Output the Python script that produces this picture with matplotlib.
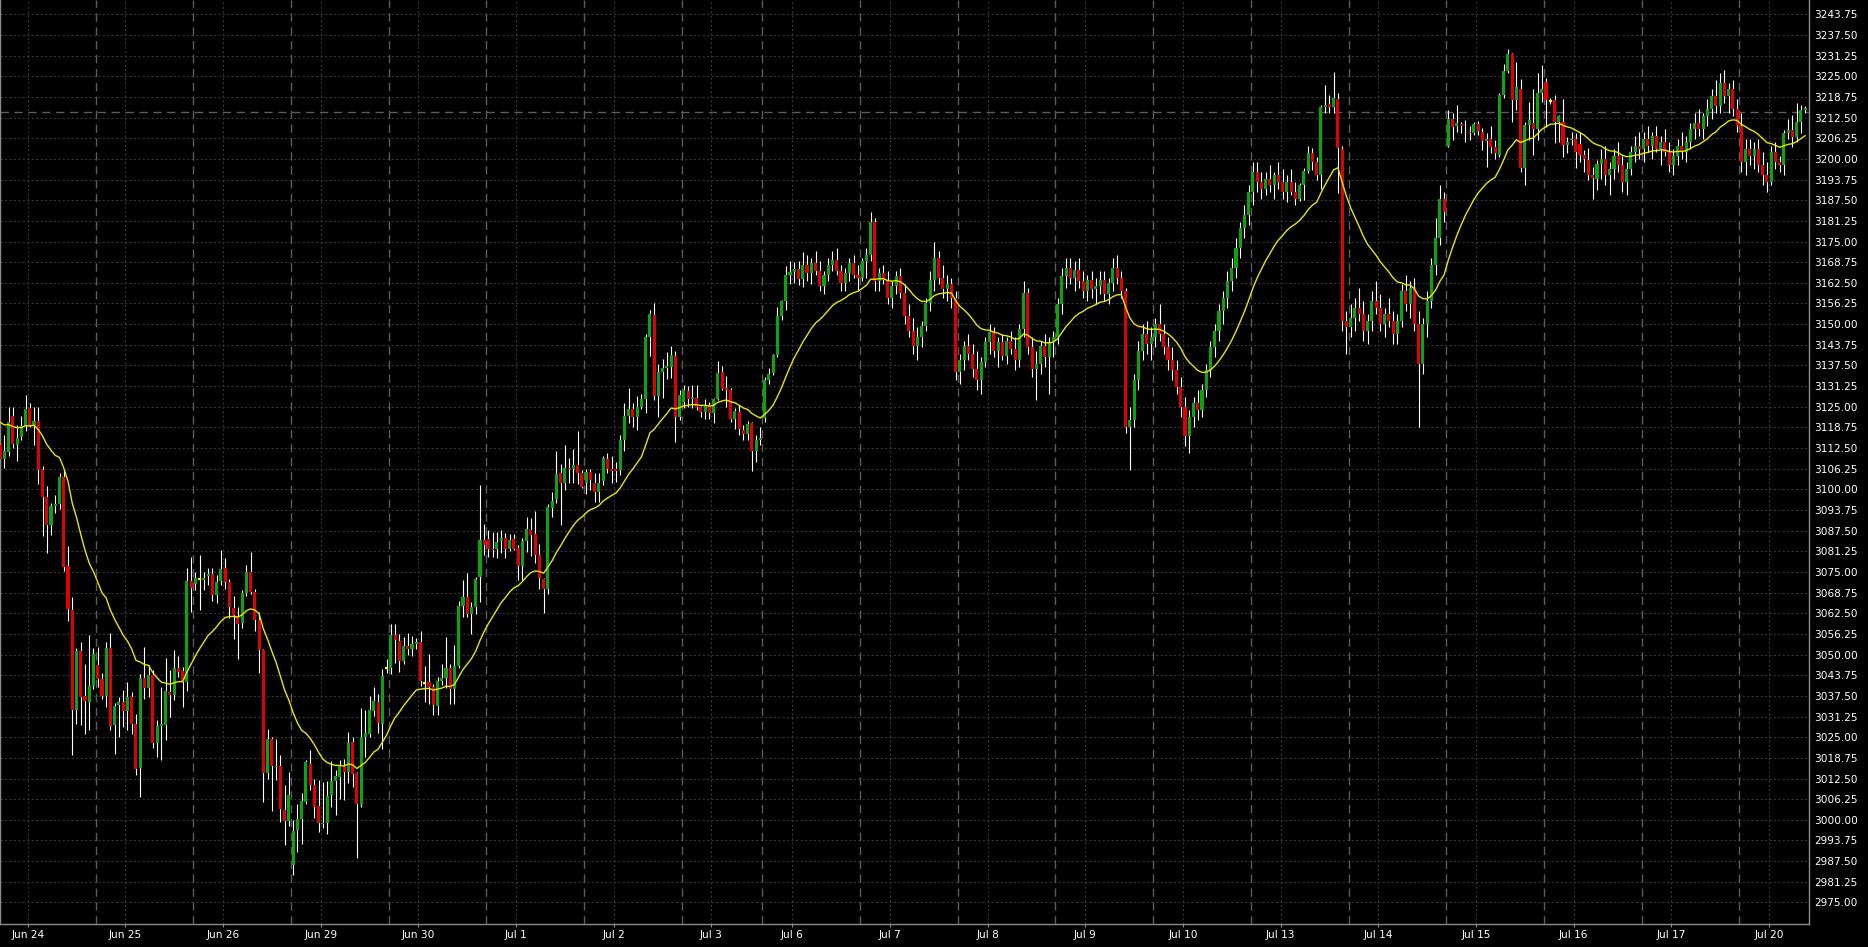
import numpy as np
import matplotlib
matplotlib.use("Agg")
import matplotlib.pyplot as plt

# hourly bars, one row per trading session
opens = [
    3113.4, 3109.2, 3111.4, 3122.2, 3113.4, 3115.7, 3119.1, 3124.6, 3119.1, 3120.7, 3105.8, 3097.8, 3089.2, 3095.0, 3095.5, 3103.7, 3076.8, 3063.5, 3033.2, 3051.0, 3037.4, 3035.7, 3040.5,
    3046.8, 3042.6, 3037.5, 3052.1, 3028.6, 3034.7, 3035.7, 3033.0, 3037.1, 3029.1, 3015.8, 3043.0, 3040.0, 3043.8, 3023.3, 3028.4, 3028.6, 3038.7, 3037.7, 3046.0, 3045.0, 3041.8, 3072.2,
    3071.5, 3072.8, 3072.7, 3073.7, 3074.5, 3068.0, 3072.2, 3076.1, 3072.0, 3064.0, 3061.6, 3059.6, 3068.7, 3075.1, 3069.0, 3060.4, 3051.5, 3014.2, 3024.6, 3016.0, 3016.4, 3003.1, 2999.7,
    2986.3, 2996.9, 3000.2, 3005.4, 3017.0, 3010.5, 3004.1, 2998.6, 2999.1, 3007.5, 3011.8, 3013.0, 3016.2, 3014.5, 3023.6, 3014.2, 3004.4, 3025.1, 3026.1, 3033.0, 3035.7, 3028.9, 3045.8,
    3045.8, 3055.9, 3054.2, 3048.1, 3052.6, 3051.7, 3053.2, 3053.7, 3041.5, 3041.8, 3040.2, 3034.5, 3042.1, 3042.8, 3045.8, 3039.7, 3046.6, 3064.7, 3067.3, 3062.4, 3064.3, 3073.5, 3084.6,
    3085.1, 3082.1, 3082.1, 3084.3, 3085.4, 3082.1, 3085.1, 3082.3, 3076.8, 3084.3, 3087.7, 3086.4, 3080.1, 3073.0, 3070.0, 3094.4, 3097.0, 3104.8, 3101.8, 3106.6, 3106.3, 3107.5, 3105.1,
    3102.0, 3105.3, 3101.8, 3099.1, 3102.6, 3109.1, 3106.1, 3106.1, 3105.8, 3114.9, 3122.3, 3124.3, 3121.8, 3125.0, 3127.3, 3146.2, 3152.7, 3128.3, 3135.6, 3136.6, 3137.1, 3140.3, 3121.8,
    3126.5, 3129.7, 3127.3, 3127.7, 3124.8, 3123.5, 3125.4, 3123.2, 3127.3, 3135.6, 3130.7, 3130.2, 3121.3, 3123.5, 3117.9, 3116.7, 3120.2, 3111.7, 3114.9,
    3121.5, 3133.0, 3135.1, 3140.6, 3152.4, 3157.0, 3164.8, 3165.9, 3166.7, 3163.6, 3167.9, 3165.5, 3168.5, 3166.0, 3161.5, 3165.0, 3168.0, 3169.5, 3166.0, 3162.5, 3165.5, 3168.5, 3165.0,
    3164.0, 3169.0, 3171.0, 3181.0, 3163.0, 3165.5, 3163.5, 3158.0, 3161.5, 3164.5, 3159.5, 3152.5, 3148.0, 3143.5, 3146.0, 3149.5, 3156.5, 3163.5, 3170.0, 3164.0, 3160.5, 3162.0, 3158.0,
    3135.5, 3139.0, 3143.5, 3141.0, 3136.5, 3133.0, 3138.5, 3144.5, 3147.5, 3142.0, 3144.5, 3140.5, 3145.0, 3142.5, 3139.0, 3148.5, 3159.5, 3143.0, 3136.5, 3138.0, 3143.5, 3140.0, 3144.5,
    3146.0, 3156.0, 3164.5, 3167.0, 3164.0, 3166.5, 3163.0, 3160.0, 3163.5, 3160.5, 3161.5, 3163.5, 3159.0, 3162.5, 3167.0, 3164.0, 3160.0, 3119.0, 3121.0, 3133.0, 3142.0, 3147.0, 3144.0,
    3146.0, 3150.0, 3147.0, 3143.0, 3139.0, 3136.0, 3131.0, 3125.0, 3116.0, 3122.0, 3126.0, 3124.0, 3130.0, 3136.0, 3143.0, 3148.0, 3154.0, 3158.0, 3163.0, 3167.0, 3173.0, 3179.0, 3183.0,
    3190.0, 3196.0, 3193.0, 3191.0, 3194.0, 3192.0, 3195.0, 3193.0, 3190.0, 3193.0, 3190.0, 3187.8, 3192.1, 3196.3, 3201.7, 3199.2, 3195.0, 3215.8, 3216.6, 3215.8, 3218.0, 3203.0, 3151.0,
    3149.0, 3152.0, 3155.0, 3153.0, 3148.0, 3151.0, 3157.0, 3155.0, 3150.0, 3153.0, 3151.0, 3147.0, 3151.0, 3160.0, 3156.0, 3161.0, 3150.0, 3138.0, 3150.0, 3157.0, 3168.0, 3176.0, 3188.0,
    3203.9, 3212.1, 3209.9, 3210.6, 3210.2, 3208.2, 3207.7, 3210.6, 3208.2, 3205.5, 3206.0, 3203.7, 3201.2, 3219.3, 3226.6, 3231.7, 3217.8, 3221.3, 3197.1, 3210.2, 3210.8, 3209.0, 3219.8,
    3223.4, 3217.5, 3217.8, 3211.3, 3211.3, 3204.2, 3205.7, 3206.0, 3204.5, 3201.2, 3199.7, 3195.1, 3193.8, 3198.4, 3200.0, 3195.0, 3197.0, 3201.0, 3198.0, 3193.0, 3197.0, 3202.0, 3204.0,
    3203.0, 3206.0, 3204.0, 3207.0, 3203.0, 3205.0, 3202.0, 3198.0, 3201.0, 3204.0, 3202.0, 3205.0, 3209.0, 3211.0, 3209.0, 3213.0, 3215.0, 3219.0, 3216.0, 3223.0, 3219.0, 3221.0, 3215.0,
    3210.0, 3199.0, 3203.0, 3201.0, 3203.0, 3198.0, 3195.0, 3193.0, 3202.0, 3199.0, 3198.1, 3207.9, 3208.7, 3206.5, 3211.3, 3214.8,
]
highs = [
    3115.0, 3116.4, 3124.8, 3124.8, 3119.5, 3122.2, 3128.5, 3126.1, 3124.8, 3124.8, 3107.0, 3101.0, 3095.9, 3098.3, 3105.0, 3106.3, 3082.9, 3067.3, 3052.0, 3053.7, 3047.1, 3055.8, 3051.9,
    3052.2, 3044.3, 3053.9, 3056.4, 3035.5, 3037.2, 3039.2, 3041.7, 3038.7, 3032.0, 3044.0, 3052.4, 3046.8, 3045.3, 3030.2, 3040.2, 3049.0, 3045.3, 3051.5, 3049.5, 3046.1, 3076.1, 3079.6,
    3075.0, 3080.1, 3075.1, 3076.1, 3076.1, 3074.0, 3081.8, 3079.1, 3073.0, 3067.7, 3064.5, 3069.5, 3077.1, 3080.9, 3069.7, 3063.0, 3051.8, 3027.6, 3025.1, 3024.4, 3019.6, 3010.5, 3014.5,
    2999.9, 3004.9, 3008.0, 3018.2, 3021.1, 3012.5, 3012.0, 3011.5, 3011.8, 3017.7, 3015.0, 3018.2, 3018.5, 3026.6, 3025.1, 3014.5, 3033.7, 3033.2, 3037.5, 3040.2, 3038.2, 3045.5, 3048.8,
    3059.2, 3059.2, 3056.2, 3055.2, 3056.4, 3055.7, 3054.9, 3057.1, 3046.6, 3050.1, 3041.2, 3043.3, 3047.1, 3055.4, 3047.3, 3052.9, 3066.2, 3072.5, 3074.6, 3066.0, 3073.5, 3101.3, 3089.4,
    3087.7, 3087.2, 3087.0, 3087.7, 3086.7, 3086.5, 3086.4, 3083.1, 3085.3, 3091.7, 3091.4, 3093.4, 3083.6, 3073.2, 3095.7, 3099.3, 3111.7, 3107.8, 3113.4, 3109.4, 3112.1, 3117.6, 3105.8,
    3106.3, 3106.3, 3104.8, 3104.8, 3110.1, 3110.9, 3110.2, 3108.3, 3116.6, 3126.0, 3130.7, 3126.0, 3128.2, 3129.0, 3146.9, 3154.3, 3156.5, 3137.9, 3139.4, 3141.6, 3143.4, 3141.9, 3130.0,
    3131.5, 3131.2, 3131.6, 3131.6, 3125.2, 3127.2, 3126.5, 3127.6, 3138.8, 3137.3, 3134.3, 3130.7, 3124.7, 3125.5, 3119.5, 3120.8, 3120.5, 3116.4, 3119.0,
    3134.0, 3136.6, 3141.0, 3155.2, 3157.3, 3167.6, 3169.1, 3168.9, 3169.1, 3171.9, 3171.0, 3170.0, 3172.0, 3169.0, 3166.0, 3170.0, 3172.0, 3173.0, 3168.0, 3167.0, 3170.0, 3171.0, 3168.0,
    3170.0, 3173.0, 3184.0, 3182.0, 3167.0, 3168.0, 3166.0, 3163.0, 3166.0, 3167.0, 3162.0, 3156.0, 3152.0, 3149.0, 3151.0, 3158.0, 3166.0, 3175.0, 3172.0, 3168.0, 3165.0, 3164.0, 3160.0,
    3141.0, 3145.0, 3147.0, 3144.0, 3142.0, 3140.0, 3146.0, 3150.0, 3149.0, 3146.0, 3147.0, 3146.0, 3148.0, 3146.0, 3150.0, 3163.0, 3161.0, 3146.0, 3142.0, 3145.0, 3147.0, 3146.0, 3148.0,
    3158.0, 3167.0, 3170.0, 3170.0, 3169.0, 3170.0, 3166.0, 3165.0, 3166.0, 3164.0, 3166.0, 3166.0, 3164.0, 3170.0, 3171.0, 3166.0, 3161.0, 3125.0, 3135.0, 3145.0, 3150.0, 3151.0, 3149.0,
    3152.0, 3156.0, 3150.0, 3146.0, 3143.0, 3139.0, 3134.0, 3128.0, 3124.0, 3128.0, 3130.0, 3132.0, 3138.0, 3145.0, 3150.0, 3156.0, 3160.0, 3166.0, 3170.0, 3176.0, 3181.0, 3186.0, 3192.0,
    3199.0, 3199.0, 3196.0, 3196.0, 3198.0, 3196.0, 3199.0, 3197.0, 3195.0, 3197.0, 3193.0, 3192.6, 3197.1, 3203.9, 3203.2, 3200.7, 3216.3, 3222.4, 3219.3, 3226.4, 3220.0, 3204.0, 3154.0,
    3156.0, 3158.0, 3161.0, 3157.0, 3153.0, 3160.0, 3163.0, 3159.0, 3155.0, 3158.0, 3154.0, 3153.0, 3162.0, 3165.0, 3163.0, 3164.0, 3154.0, 3152.0, 3160.0, 3170.0, 3182.0, 3192.0, 3190.0,
    3214.8, 3213.8, 3216.3, 3211.3, 3211.8, 3210.0, 3211.3, 3211.6, 3209.2, 3207.7, 3210.0, 3205.7, 3219.8, 3228.7, 3233.2, 3232.0, 3229.4, 3224.1, 3211.3, 3217.3, 3221.3, 3225.9, 3228.4,
    3224.4, 3218.5, 3219.3, 3213.3, 3218.0, 3206.5, 3208.0, 3207.7, 3208.0, 3202.7, 3203.2, 3197.6, 3199.7, 3203.0, 3204.0, 3199.0, 3203.0, 3205.0, 3201.0, 3199.0, 3204.0, 3207.0, 3208.0,
    3208.0, 3210.0, 3208.0, 3210.0, 3207.0, 3209.0, 3205.0, 3203.0, 3206.0, 3208.0, 3207.0, 3211.0, 3214.0, 3215.0, 3214.0, 3218.0, 3221.0, 3224.0, 3226.0, 3227.0, 3223.0, 3224.0, 3218.0,
    3214.0, 3206.0, 3206.0, 3205.0, 3206.0, 3202.0, 3199.0, 3204.0, 3205.0, 3201.0, 3208.7, 3212.0, 3213.3, 3216.8, 3216.3, 3216.0,
]
lows = [
    3108.5, 3106.5, 3110.1, 3112.5, 3108.7, 3114.9, 3117.7, 3118.9, 3113.4, 3101.6, 3086.0, 3080.8, 3086.2, 3092.9, 3094.0, 3075.3, 3060.2, 3019.6, 3029.1, 3028.6, 3025.9, 3027.1, 3039.7,
    3040.3, 3036.7, 3034.2, 3027.1, 3019.9, 3025.1, 3028.1, 3027.3, 3026.1, 3013.5, 3007.0, 3036.7, 3037.2, 3021.6, 3019.1, 3018.0, 3024.1, 3031.2, 3036.2, 3043.3, 3034.2, 3039.0, 3063.0,
    3069.5, 3063.4, 3069.5, 3071.0, 3066.2, 3065.5, 3071.0, 3070.0, 3061.1, 3054.7, 3048.8, 3057.9, 3067.8, 3068.2, 3057.2, 3044.3, 3005.4, 3012.5, 3002.7, 3012.0, 2999.4, 2992.3, 2998.0,
    2983.2, 2990.3, 2992.6, 3004.9, 3009.0, 3000.6, 2996.4, 2997.5, 2995.6, 3003.9, 3001.4, 3006.4, 3005.9, 3011.0, 3010.0, 2988.5, 3003.9, 3019.1, 3025.1, 3031.5, 3026.3, 3021.3, 3044.3,
    3044.1, 3047.5, 3044.8, 3047.3, 3049.8, 3049.6, 3051.8, 3040.6, 3035.7, 3034.9, 3031.7, 3031.7, 3040.7, 3039.9, 3035.2, 3035.2, 3045.8, 3061.4, 3061.4, 3056.1, 3062.4, 3066.0, 3080.1,
    3079.6, 3079.6, 3079.1, 3080.8, 3079.1, 3081.3, 3081.6, 3072.5, 3072.7, 3081.1, 3079.9, 3077.6, 3070.0, 3062.6, 3068.2, 3091.7, 3095.9, 3089.2, 3099.8, 3101.8, 3101.8, 3101.5, 3100.3,
    3098.5, 3099.8, 3096.2, 3096.2, 3101.3, 3104.8, 3101.8, 3102.1, 3104.3, 3111.7, 3120.2, 3118.9, 3118.1, 3124.3, 3123.0, 3140.4, 3127.0, 3121.8, 3127.7, 3133.4, 3133.6, 3114.2, 3121.0,
    3124.5, 3125.0, 3124.5, 3124.0, 3121.8, 3121.3, 3121.3, 3120.2, 3127.0, 3130.2, 3124.8, 3120.5, 3118.2, 3116.4, 3114.9, 3114.9, 3105.6, 3108.4, 3113.4,
    3120.5, 3132.0, 3134.5, 3140.0, 3151.2, 3154.2, 3162.0, 3162.5, 3161.8, 3161.3, 3163.0, 3162.0, 3165.0, 3160.0, 3159.0, 3163.0, 3166.0, 3165.0, 3160.0, 3160.0, 3163.0, 3164.0, 3160.0,
    3163.0, 3164.0, 3169.0, 3160.0, 3160.0, 3162.0, 3156.0, 3155.0, 3159.0, 3158.0, 3150.0, 3146.0, 3141.0, 3139.0, 3143.0, 3148.0, 3154.0, 3160.0, 3162.0, 3158.0, 3157.0, 3155.0, 3133.0,
    3132.0, 3136.0, 3139.0, 3134.0, 3130.0, 3129.0, 3137.0, 3141.0, 3140.0, 3137.0, 3139.0, 3138.0, 3141.0, 3136.0, 3137.0, 3146.0, 3141.0, 3134.0, 3127.0, 3135.0, 3137.0, 3129.0, 3140.0,
    3144.0, 3153.0, 3161.0, 3162.0, 3160.0, 3161.0, 3158.0, 3157.0, 3158.0, 3156.0, 3159.0, 3157.0, 3156.0, 3160.0, 3162.0, 3158.0, 3117.0, 3106.0, 3119.0, 3130.0, 3139.0, 3141.0, 3139.0,
    3143.0, 3145.0, 3141.0, 3136.0, 3133.0, 3129.0, 3122.0, 3113.0, 3111.0, 3119.0, 3121.0, 3122.0, 3128.0, 3134.0, 3140.0, 3145.0, 3150.0, 3155.0, 3160.0, 3164.0, 3170.0, 3176.0, 3180.0,
    3186.0, 3190.0, 3188.0, 3189.0, 3190.0, 3188.0, 3191.0, 3188.0, 3187.0, 3189.0, 3186.0, 3187.4, 3187.5, 3195.6, 3196.6, 3193.6, 3190.8, 3214.0, 3214.0, 3213.8, 3189.6, 3148.0, 3141.0,
    3146.0, 3148.0, 3151.0, 3145.0, 3144.0, 3148.0, 3153.0, 3148.0, 3146.0, 3149.0, 3144.0, 3144.0, 3149.0, 3154.0, 3152.0, 3148.0, 3119.0, 3135.0, 3146.0, 3155.0, 3165.0, 3174.0, 3181.0,
    3203.5, 3205.7, 3208.2, 3207.7, 3205.2, 3205.7, 3207.2, 3207.2, 3202.7, 3197.6, 3201.7, 3199.9, 3200.7, 3218.3, 3225.9, 3211.3, 3214.8, 3196.1, 3192.1, 3205.7, 3201.2, 3205.7, 3217.3,
    3209.7, 3216.5, 3204.7, 3205.2, 3200.7, 3201.7, 3204.2, 3197.1, 3199.0, 3196.1, 3193.6, 3188.0, 3190.6, 3194.0, 3192.0, 3189.0, 3194.0, 3196.0, 3190.0, 3189.0, 3195.0, 3199.0, 3200.0,
    3199.0, 3202.0, 3200.0, 3202.0, 3198.0, 3201.0, 3196.0, 3195.0, 3198.0, 3200.0, 3199.0, 3203.0, 3206.0, 3207.0, 3206.0, 3210.0, 3212.0, 3214.0, 3214.0, 3217.0, 3214.0, 3213.0, 3208.0,
    3196.0, 3195.0, 3198.0, 3197.0, 3196.0, 3192.0, 3190.0, 3192.0, 3197.0, 3196.0, 3195.1, 3206.0, 3203.7, 3205.0, 3207.7, 3214.0,
]
closes = [
    3109.2, 3111.6, 3120.5, 3113.7, 3115.4, 3119.1, 3124.3, 3119.1, 3120.7, 3106.0, 3097.8, 3089.2, 3095.0, 3095.5, 3103.7, 3076.6, 3063.8, 3033.2, 3051.0, 3037.2, 3036.0, 3040.5, 3050.3,
    3042.5, 3037.5, 3052.1, 3028.4, 3034.4, 3035.7, 3033.0, 3037.1, 3029.1, 3015.5, 3043.0, 3040.0, 3043.8, 3023.3, 3028.4, 3029.1, 3038.9, 3037.7, 3046.0, 3044.8, 3041.8, 3072.2, 3070.3,
    3073.2, 3072.8, 3073.1, 3074.5, 3068.0, 3072.0, 3075.9, 3072.0, 3064.5, 3061.9, 3059.4, 3068.5, 3075.1, 3069.0, 3060.4, 3051.5, 3014.2, 3024.4, 3016.3, 3016.4, 3003.3, 2999.7, 3007.5,
    2996.6, 3000.2, 3005.6, 3017.5, 3010.5, 3003.9, 2998.9, 2999.0, 3007.2, 3011.7, 3013.3, 3016.2, 3014.5, 3023.3, 3014.0, 3004.9, 3025.1, 3026.3, 3033.2, 3035.9, 3029.2, 3043.5, 3045.8,
    3055.9, 3054.4, 3048.1, 3052.6, 3051.7, 3053.2, 3053.7, 3042.1, 3041.5, 3040.2, 3034.7, 3042.1, 3042.8, 3045.8, 3039.7, 3046.6, 3064.7, 3067.3, 3062.4, 3064.3, 3073.0, 3084.6, 3083.3,
    3081.9, 3081.6, 3084.1, 3085.4, 3082.1, 3084.8, 3082.1, 3076.8, 3084.3, 3088.0, 3086.2, 3080.1, 3073.3, 3070.0, 3094.6, 3096.5, 3104.6, 3101.8, 3106.6, 3106.3, 3107.5, 3105.1, 3100.8,
    3105.3, 3102.8, 3099.1, 3102.0, 3109.4, 3106.1, 3105.6, 3105.6, 3114.9, 3122.3, 3124.3, 3121.8, 3125.0, 3127.3, 3146.2, 3153.0, 3128.3, 3135.6, 3136.6, 3137.4, 3140.6, 3121.8, 3128.7,
    3130.0, 3127.2, 3127.8, 3125.0, 3123.5, 3125.5, 3123.2, 3127.3, 3135.3, 3130.5, 3130.0, 3121.3, 3123.7, 3118.2, 3116.7, 3119.9, 3111.7, 3114.9, 3115.6,
    3133.0, 3134.8, 3140.6, 3152.4, 3157.0, 3164.8, 3165.9, 3166.7, 3163.6, 3167.9, 3165.5, 3168.5, 3166.0, 3161.5, 3165.0, 3168.0, 3169.5, 3166.0, 3162.5, 3165.5, 3168.5, 3165.0, 3164.0,
    3169.0, 3171.0, 3181.0, 3163.0, 3165.5, 3163.5, 3158.0, 3161.5, 3164.5, 3159.5, 3152.5, 3148.0, 3143.5, 3146.0, 3149.5, 3156.5, 3163.5, 3170.0, 3164.0, 3160.5, 3162.0, 3158.0, 3135.5,
    3139.0, 3143.5, 3141.0, 3136.5, 3133.0, 3138.5, 3144.5, 3147.5, 3142.0, 3144.5, 3140.5, 3145.0, 3142.5, 3139.0, 3148.5, 3159.5, 3143.0, 3136.5, 3138.0, 3143.5, 3140.0, 3144.5, 3146.0,
    3156.0, 3164.5, 3167.0, 3164.0, 3166.5, 3163.0, 3160.0, 3163.5, 3160.5, 3161.5, 3163.5, 3159.0, 3162.5, 3167.0, 3164.0, 3160.0, 3119.0, 3121.0, 3133.0, 3142.0, 3147.0, 3144.0, 3146.0,
    3150.0, 3147.0, 3143.0, 3139.0, 3136.0, 3131.0, 3125.0, 3116.0, 3122.0, 3126.0, 3124.0, 3130.0, 3136.0, 3143.0, 3148.0, 3154.0, 3158.0, 3163.0, 3167.0, 3173.0, 3179.0, 3183.0, 3190.0,
    3196.0, 3193.0, 3191.0, 3194.0, 3192.0, 3195.0, 3193.0, 3190.0, 3193.0, 3190.0, 3188.0, 3192.1, 3196.3, 3201.7, 3199.2, 3195.1, 3215.8, 3216.3, 3215.8, 3218.3, 3203.2, 3151.0, 3149.0,
    3152.0, 3155.0, 3153.0, 3148.0, 3151.0, 3157.0, 3155.0, 3150.0, 3153.0, 3151.0, 3147.0, 3151.0, 3160.0, 3156.0, 3161.0, 3150.0, 3138.0, 3150.0, 3157.0, 3168.0, 3176.0, 3188.0, 3184.0,
    3212.1, 3209.6, 3210.8, 3210.0, 3210.4, 3207.7, 3210.6, 3208.5, 3205.5, 3206.0, 3203.7, 3201.7, 3219.3, 3226.6, 3231.7, 3217.8, 3221.8, 3197.1, 3210.2, 3211.8, 3209.0, 3219.8, 3221.0,
    3217.8, 3217.5, 3211.3, 3213.0, 3204.2, 3205.2, 3206.0, 3202.2, 3201.2, 3199.9, 3195.1, 3194.1, 3198.4, 3200.0, 3195.0, 3197.0, 3201.0, 3198.0, 3193.0, 3197.0, 3202.0, 3204.0, 3203.0,
    3206.0, 3204.0, 3207.0, 3203.0, 3205.0, 3202.0, 3198.0, 3201.0, 3204.0, 3202.0, 3205.0, 3209.0, 3211.0, 3209.0, 3213.0, 3215.0, 3219.0, 3216.0, 3223.0, 3219.0, 3221.0, 3215.0, 3210.0,
    3199.0, 3203.0, 3201.0, 3203.0, 3198.0, 3195.0, 3193.0, 3202.0, 3199.0, 3198.0, 3207.9, 3208.7, 3206.5, 3211.3, 3214.8, 3215.3,
]

session_labels = ['Jun 24', 'Jun 25', 'Jun 26', 'Jun 29', 'Jun 30', 'Jul 1', 'Jul 2', 'Jul 3',
                  'Jul 6', 'Jul 7', 'Jul 8', 'Jul 9', 'Jul 10', 'Jul 13', 'Jul 14', 'Jul 15',
                  'Jul 16', 'Jul 17', 'Jul 20']
session_bars = [23, 23, 23, 23, 23, 23, 23, 19, 23, 23, 23, 23, 23, 23, 23, 23, 23, 23, 16]

ma_start = 3121.5      # moving average level at the left edge
ma_period = 20
last_price = 3214.25

o = np.array(opens)
h = np.array(highs)
l = np.array(lows)
c = np.array(closes)
x = np.arange(len(c))

# exponential moving average of the closes
alpha = 2.0 / (ma_period + 1)
ma = []
e = ma_start
for v in c:
    e = e + alpha * (v - e)
    ma.append(e)

starts = np.concatenate([[0], np.cumsum(session_bars)[:-1]])

# -----------------------------
# figure
# -----------------------------
W, H = 1868, 947
fig = plt.figure(figsize=(W / 100, H / 100), dpi=100, facecolor='black')
ax = fig.add_axes([0, (H - 923.5) / H, 1808.5 / W, 923.5 / H])
ax.set_facecolor('black')

ax.set_xlim(-0.01, 425.8)
ax.set_ylim(2968.63, 3248.08)

# grid and separators
yt = np.arange(2975, 3243.76, 6.25)
for v in yt:
    ax.axhline(v, color='#343434', lw=0.8, ls=(0, (2, 2)), zorder=0)
xt = starts + 6.5
for v in xt:
    ax.axvline(v, color='#343434', lw=0.8, ls=(0, (2, 2)), zorder=0)
for s in starts[1:]:
    ax.axvline(s - 0.5, color='#5c5c5c', lw=1.0, ls=(0, (6, 4)), zorder=0)
ax.axhline(last_price, color='#5c5c5c', lw=1.0, ls=(0, (6, 4)), zorder=0)

# candles
up = c > o
down = c < o
flat = c == o
ax.vlines(x, l, h, color='white', lw=0.8, zorder=2)
ax.bar(x[up], (c - o)[up], bottom=o[up], width=0.72, color='#0ea30e', linewidth=0, zorder=3)
ax.bar(x[down], (o - c)[down], bottom=c[down], width=0.72, color='#e00000', linewidth=0, zorder=3)
ax.hlines(c[flat], x[flat] - 0.36, x[flat] + 0.36, color='#ffff00', lw=1.6, zorder=3)

ax.plot(x, ma, color='#e6e600', lw=1.0, zorder=4)

# axes styling
for side in ['left', 'right', 'bottom']:
    ax.spines[side].set_color('#8c8c8c')
    ax.spines[side].set_linewidth(1.0)
ax.spines['top'].set_visible(False)

ax.yaxis.tick_right()
ax.set_yticks(yt)
ax.set_yticklabels([f"{v:.2f}" for v in yt])
ax.tick_params(axis='y', length=0, pad=4.2, labelsize=7.6, labelcolor='white')

ax.set_xticks(xt)
ax.set_xticklabels(session_labels)
ax.tick_params(axis='x', length=2.5, width=0.8, color='#8c8c8c', pad=2.5,
               labelsize=7.6, labelcolor='white')

fig.savefig("out.png", dpi=100, facecolor='black')
